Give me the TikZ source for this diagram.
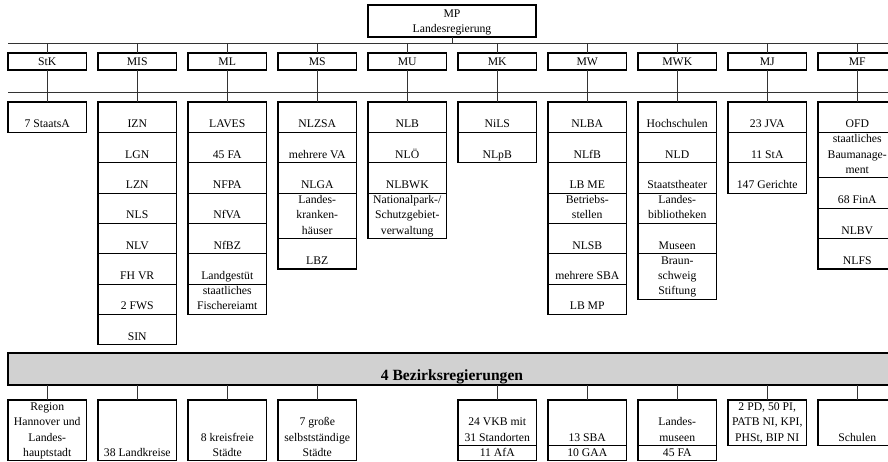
\documentclass[tikz,border=0pt]{standalone}
\usepackage{fontspec}
\setmainfont{Liberation Serif}
\usetikzlibrary{positioning}
\newcommand{\cellfont}{\fontsize{11.7pt}{15.2pt}\selectfont}
\newcommand{\bandfont}{\fontsize{15.6pt}{18pt}\selectfont\bfseries}
\tikzset{
  boxline/.style={draw, line width=1.1pt, inner sep=0pt, outer sep=0pt},
  cell/.style={boxline,
    execute at begin node={\begin{minipage}[b][#1][b]{78.5pt}\cellfont\centering},
    execute at end node={\strut\end{minipage}}},
  cell/.default=25.8pt,
  minbox/.style={cell=12.4pt},
  tallcell/.style={cell=41pt},
  headbox/.style={boxline,
    execute at begin node={\begin{minipage}[b][27.4pt][b]{168pt}\cellfont\centering},
    execute at end node={\strut\end{minipage}}},
  band/.style={draw, line width=1.1pt, fill=black!18, inner sep=0pt, outer sep=0pt,
    minimum width=888pt, text height=27pt, text depth=5pt, font=\bandfont},
  bus/.style={line width=0.8pt, black!80},
}
\begin{document}
\begin{tikzpicture}[x=1pt, y=-1pt]
\useasboundingbox (0,0) rectangle (888,462);

\node[headbox] (mp) at (452,21) {MP\\Landesregierung};
\coordinate (topw) at (8,43);
\coordinate (tope) at (896,43);
\coordinate (subw) at (8,92);
\coordinate (sube) at (896,92);
\draw[bus] (topw) -- (tope);
\draw[bus] (subw) -- (sube);

\node[minbox] (stk) at (47.25,61.5) {StK};
\node[minbox, right=11.5pt of stk] (mis) {MIS};
\node[minbox, right=11.5pt of mis] (ml) {ML};
\node[minbox, right=11.5pt of ml] (ms) {MS};
\node[minbox, right=11.5pt of ms] (mu) {MU};
\node[minbox, right=11.5pt of mu] (mk) {MK};
\node[minbox, right=11.5pt of mk] (mw) {MW};
\node[minbox, right=11.5pt of mw] (mwk) {MWK};
\node[minbox, right=11.5pt of mwk] (mj) {MJ};
\node[minbox, right=11.5pt of mj] (mf) {MF};

\draw[bus] (mp) -- (mp |- topw);
\draw[bus] (stk) -- (stk |- topw);
\draw[bus] (mis) -- (mis |- topw);
\draw[bus] (ml) -- (ml |- topw);
\draw[bus] (ms) -- (ms |- topw);
\draw[bus] (mu) -- (mu |- topw);
\draw[bus] (mk) -- (mk |- topw);
\draw[bus] (mw) -- (mw |- topw);
\draw[bus] (mwk) -- (mwk |- topw);
\draw[bus] (mj) -- (mj |- topw);
\draw[bus] (mf) -- (mf |- topw);

\node[cell, below=32pt of stk] (stk1) {7 StaatsA};

\node[cell, below=32pt of mis] (mis1) {IZN};
\node[cell, below=0pt of mis1] (mis2) {LGN};
\node[cell, below=0pt of mis2] (mis3) {LZN};
\node[cell, below=0pt of mis3] (mis4) {NLS};
\node[cell, below=0pt of mis4] (mis5) {NLV};
\node[cell, below=0pt of mis5] (mis6) {FH VR};
\node[cell, below=0pt of mis6] (mis7) {2 FWS};
\node[cell, below=0pt of mis7] (mis8) {SIN};

\node[cell, below=32pt of ml] (ml1) {LAVES};
\node[cell, below=0pt of ml1] (ml2) {45 FA};
\node[cell, below=0pt of ml2] (ml3) {NFPA};
\node[cell, below=0pt of ml3] (ml4) {NfVA};
\node[cell, below=0pt of ml4] (ml5) {NfBZ};
\node[cell, below=0pt of ml5] (ml6) {Landgestüt};
\node[cell, below=0pt of ml6] (ml7) {staatliches\\Fischereiamt};

\node[cell, below=32pt of ms] (ms1) {NLZSA};
\node[cell, below=0pt of ms1] (ms2) {mehrere VA};
\node[cell, below=0pt of ms2] (ms3) {NLGA};
\node[tallcell, below=0pt of ms3] (ms4) {Landes-\\kranken-\\häuser};
\node[cell, below=0pt of ms4] (ms5) {LBZ};

\node[cell, below=32pt of mu] (mu1) {NLB};
\node[cell, below=0pt of mu1] (mu2) {NLÖ};
\node[cell, below=0pt of mu2] (mu3) {NLBWK};
\node[tallcell, below=0pt of mu3] (mu4) {Nationalpark-/\\Schutzgebiet-\\verwaltung};

\node[cell, below=32pt of mk] (mk1) {NiLS};
\node[cell, below=0pt of mk1] (mk2) {NLpB};

\node[cell, below=32pt of mw] (mw1) {NLBA};
\node[cell, below=0pt of mw1] (mw2) {NLfB};
\node[cell, below=0pt of mw2] (mw3) {LB ME};
\node[cell, below=0pt of mw3] (mw4) {Betriebs-\\stellen};
\node[cell, below=0pt of mw4] (mw5) {NLSB};
\node[cell, below=0pt of mw5] (mw6) {mehrere SBA};
\node[cell, below=0pt of mw6] (mw7) {LB MP};

\node[cell, below=32pt of mwk] (mwk1) {Hochschulen};
\node[cell, below=0pt of mwk1] (mwk2) {NLD};
\node[cell, below=0pt of mwk2] (mwk3) {Staatstheater};
\node[cell, below=0pt of mwk3] (mwk4) {Landes-\\bibliotheken};
\node[cell, below=0pt of mwk4] (mwk5) {Museen};
\node[tallcell, below=0pt of mwk5] (mwk6) {Braun-\\schweig\\Stiftung};

\node[cell, below=32pt of mj] (mj1) {23 JVA};
\node[cell, below=0pt of mj1] (mj2) {11 StA};
\node[cell, below=0pt of mj2] (mj3) {147 Gerichte};

\node[cell, below=32pt of mf] (mf1) {OFD};
\node[tallcell, below=0pt of mf1] (mf2) {staatliches\\Baumanage-\\ment};
\node[cell, below=0pt of mf2] (mf3) {68 FinA};
\node[cell, below=0pt of mf3] (mf4) {NLBV};
\node[cell, below=0pt of mf4] (mf5) {NLFS};

\draw[bus] (stk) -- (stk1);
\draw[bus] (mis) -- (mis1);
\draw[bus] (ml) -- (ml1);
\draw[bus] (ms) -- (ms1);
\draw[bus] (mu) -- (mu1);
\draw[bus] (mk) -- (mk1);
\draw[bus] (mw) -- (mw1);
\draw[bus] (mwk) -- (mwk1);
\draw[bus] (mj) -- (mj1);
\draw[bus] (mf) -- (mf1);

\node[band] (bez) at (452,369) {4 Bezirksregierungen};
\coordinate (dblw) at (8,391);
\coordinate (dble) at (896,391);
\draw[bus, double, double distance=3.2pt] (dblw) -- (dble);

\coordinate (btop) at (0,400);
\node[cell=56.2pt, anchor=north] (region) at (stk |- btop) {Region\\Hannover und\\Landes-\\hauptstadt};
\node[cell=56.2pt, anchor=north] (kreise) at (mis |- btop) {38 Landkreise};
\node[cell=56.2pt, anchor=north] (kfst) at (ml |- btop) {8 kreisfreie\\Städte};
\node[cell=56.2pt, anchor=north] (gst) at (ms |- btop) {7 große\\selbstständige\\Städte};
\node[tallcell, anchor=north] (vkb) at (mk |- btop) {24 VKB mit\\31 Standorten};
\node[cell=10.6pt, below=0pt of vkb] (afa) {11 AfA};
\node[tallcell, anchor=north] (sba) at (mw |- btop) {13 SBA};
\node[cell=10.6pt, below=0pt of sba] (gaa) {10 GAA};
\node[tallcell, anchor=north] (lmus) at (mwk |- btop) {Landes-\\museen};
\node[cell=10.6pt, below=0pt of lmus] (fa) {45 FA};
\node[tallcell, anchor=north] (pol) at (mj |- btop) {2 PD, 50 PI,\\PATB NI, KPI,\\PHSt, BIP NI};
\node[tallcell, anchor=north] (schul) at (mf |- btop) {Schulen};

\draw[bus] (region.north) -- (region.north |- bez.south);
\draw[bus] (kreise.north) -- (kreise.north |- bez.south);
\draw[bus] (kfst.north) -- (kfst.north |- bez.south);
\draw[bus] (gst.north) -- (gst.north |- bez.south);
\draw[bus] (vkb.north) -- (vkb.north |- bez.south);
\draw[bus] (sba.north) -- (sba.north |- bez.south);
\draw[bus] (lmus.north) -- (lmus.north |- bez.south);
\draw[bus] (pol.north) -- (pol.north |- bez.south);
\draw[bus] (schul.north) -- (schul.north |- bez.south);
\end{tikzpicture}
\end{document}
